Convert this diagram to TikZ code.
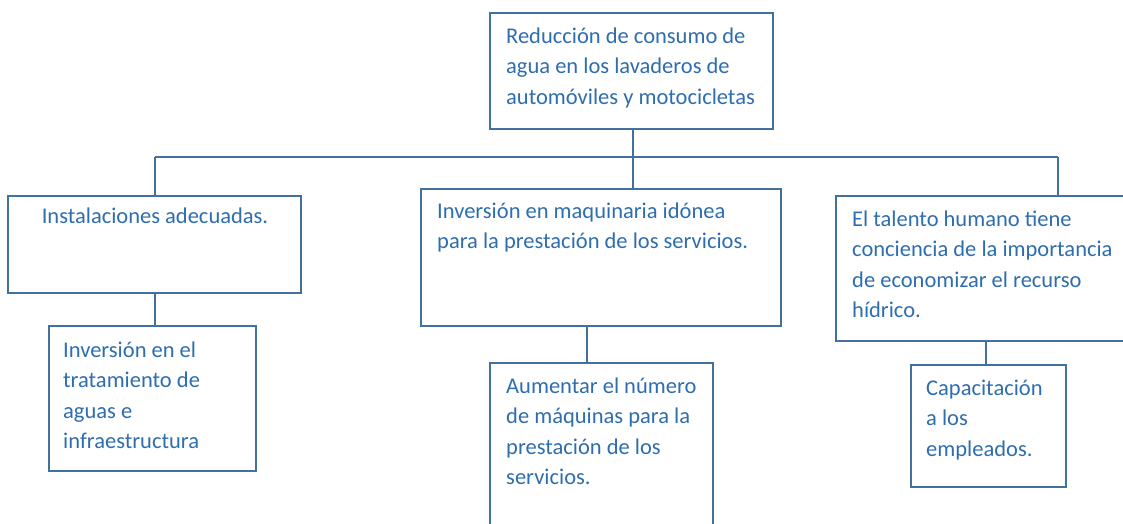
\documentclass[tikz,border=0pt]{standalone}
\usepackage{fontspec}
\setmainfont{Carlito}
\definecolor{bordc}{HTML}{41719C}
\definecolor{txtc}{HTML}{2E6DAE}
\begin{document}
\begin{tikzpicture}[x=1pt,y=-1pt,
  box/.style={draw=bordc,line width=1.4pt,anchor=north west,inner sep=0pt,outer sep=0pt},
  lbl/.style={anchor=base west,inner sep=0pt,align=left,text=txtc,font=\fontsize{22.5}{30.5}\selectfont},
  conn/.style={draw=bordc,line width=1.4pt}]
\useasboundingbox (0,0) rectangle (1123,523);
\clip (0,0) rectangle (1123,523);
% boxes
\node[box,minimum width=283pt,minimum height=116pt] (top) at (490,13) {};
\node[box,minimum width=293pt,minimum height=97pt] (left) at (8,196) {};
\node[box,minimum width=360pt,minimum height=137pt] (mid) at (421,189) {};
\node[box,minimum width=292pt,minimum height=145pt] (right) at (836,196) {};
\node[box,minimum width=207pt,minimum height=145pt] (lchild) at (49,326) {};
\node[box,minimum width=223pt,minimum height=170pt] (mchild) at (490,363) {};
\node[box,minimum width=155pt,minimum height=122pt] (rchild) at (911,365) {};
% texts (anchored at the baseline of the last line)
\node[lbl] (ttop) at (506,104) {Reducción de consumo de\\agua en los lavaderos de\\automóviles y motocicletas};
\node[lbl,anchor=base] (tleft) at (155,223) {Instalaciones adecuadas.};
\node[lbl] (tmid) at (437,248.5) {Inversión en maquinaria idónea\\para la prestación de los servicios.};
\node[lbl] (tright) at (852,317.5) {El talento humano tiene\\conciencia de la importancia\\de economizar el recurso\\hídrico.};
\node[lbl] (tlchild) at (63,448.5) {Inversión en el\\tratamiento de\\aguas e\\infraestructura};
\node[lbl] (tmchild) at (506,484.5) {Aumentar el número\\de máquinas para la\\prestación de los\\servicios.};
\node[lbl] (trchild) at (926,456) {Capacitación\\a los\\empleados.};
% connectors
\coordinate (hl) at (155,157);
\coordinate (hm) at (633,157);
\coordinate (hr) at (1058,157);
\coordinate (mdrop) at (587,326);
\coordinate (rdrop) at (986,341);
\draw[conn] (top.south -| hm) -- (hm);
\draw[conn] (hl) -- (hr);
\draw[conn] (hl) -- (hl |- left.north);
\draw[conn] (hm) -- (hm |- mid.north);
\draw[conn] (hr) -- (hr |- right.north);
\draw[conn] (left.south -| hl) -- (hl |- lchild.north);
\draw[conn] (mdrop) -- (mdrop |- mchild.north);
\draw[conn] (rdrop) -- (rdrop |- rchild.north);
\end{tikzpicture}
\end{document}
